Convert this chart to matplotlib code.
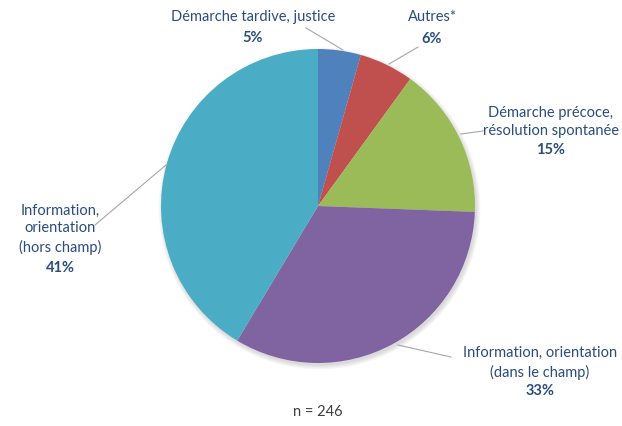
import matplotlib
matplotlib.use("Agg")
import matplotlib.pyplot as plt
from matplotlib.patches import Circle

plt.rcParams['font.family'] = ['Lato', 'DejaVu Sans']

categories = ['Démarche tardive, justice', 'Autres*',
              'Démarche précoce,\nrésolution spontanée',
              'Information, orientation\n(dans le champ)',
              'Information,\norientation\n(hors champ)']
pct_labels = [5, 6, 15, 33, 41]
# wedge shares as drawn in the picture
shares = [4.4, 5.6, 15.6, 33.0, 41.4]
colors = ['#4F81BD', '#C0504D', '#9BBB59', '#8064A2', '#4BACC6']
txt_color = '#2B4C7E'

fig = plt.figure(figsize=(6.22, 4.26), dpi=100)
ax = fig.add_axes([0, 0, 1, 1])

cx, cy, r = 318, 220, 157

# soft shadow
for i in range(6):
    ax.add_patch(Circle((cx + 1.5, cy - 2.5), r + 4 - i * 0.8, color='black',
                        alpha=0.025, linewidth=0, zorder=0))

ax.pie(shares, colors=colors, startangle=90, counterclock=False,
       center=(cx, cy), radius=r, frame=True,
       wedgeprops=dict(linewidth=0, zorder=2))
ax.set_xlim(0, 622)
ax.set_ylim(0, 426)
ax.set_aspect('equal')
ax.axis('off')

# label positions (name anchor, pct position, leader line start/end) in pixel coords (y up)
labels = [
    dict(xy=(253, 409), pct=(253, 388), line=[(306, 398), (343, 376)]),
    dict(xy=(432, 409), pct=(432, 387), line=[(418, 379), (389, 362)]),
    dict(xy=(551, 304), pct=(551, 276), line=[(483, 295), (461, 292)]),
    dict(xy=(540, 63), pct=(540, 35), line=[(451, 69), (398, 81)]),
    dict(xy=(60, 197), pct=(60, 158), line=[(95, 201), (166, 261)]),
]

for name, v, lab in zip(categories, pct_labels, labels):
    ax.text(lab['xy'][0], lab['xy'][1], name, ha='center', va='center',
            fontsize=10.5, color=txt_color, linespacing=1.35)
    ax.text(lab['pct'][0], lab['pct'][1], f'{v}%', ha='center', va='center',
            fontsize=10.5, color=txt_color, fontweight='bold')
    (x0, y0), (x1, y1) = lab['line']
    ax.plot([x0, x1], [y0, y1], color='#A6A6A6', linewidth=0.8)

ax.text(318, 14, 'n = 246', ha='center', va='center', fontsize=10.5, color='#404040')

fig.savefig('out.png', dpi=100)
